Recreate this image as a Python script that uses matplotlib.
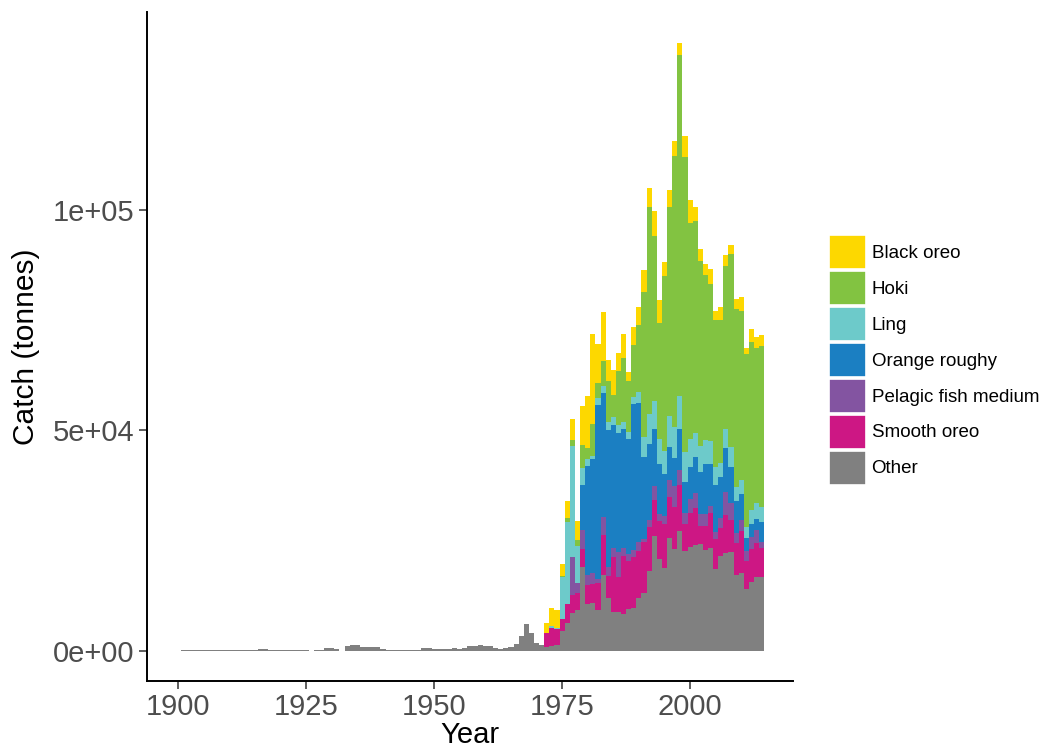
import numpy as np
import matplotlib
matplotlib.use("Agg")
import matplotlib.pyplot as plt
from matplotlib.patches import Patch

plt.rcParams['font.family'] = ['Liberation Sans', 'DejaVu Sans']

years = np.arange(1900, 2015)

# catch before the deepwater fishery starts (Other only)
other_early = [
    80, 200, 200, 200, 200, 200, 200, 200, 120, 120,        # 1900-1909
    120, 120, 120, 120, 250, 250, 450, 450, 180, 180,       # 1910-1919
    180, 180, 180, 230, 230, 230, 100, 250, 250, 700,       # 1920-1929
    700, 400, 80, 1130, 1360, 1360, 830, 830, 830, 830,     # 1930-1939
    380, 300, 300, 300, 300, 150, 300, 150, 600, 680,       # 1940-1949
    530, 530, 530, 530, 680, 530, 680, 1100, 1100, 1300,    # 1950-1959
    1130, 1130, 750, 450, 600, 980, 1510, 3400, 6050, 4150, # 1960-1969
    1880, 1360,                                             # 1970-1971
]

# 1972-2014, tonnes
other_late = [
    980, 1130, 1360, 4540, 6420, 8690, 9300, 18980, 10660, 10820,
    9300, 17240, 12090, 8910, 8910, 8390, 9460, 9680, 11950, 13090,
    18140, 26080, 20870, 18820, 25630, 23130, 27220, 22680, 23590, 24040,
    24270, 22910, 23360, 18600, 21550, 22230, 22450, 17240, 17690, 14060,
    15650, 16780, 16780,
]
smooth_oreo = [
    3175, 4150, 3630, 2720, 4240, 4010, 3790, 4150, 4310, 4380,
    6190, 9070, 4920, 12470, 7940, 13150, 11020, 11700, 10730, 11570,
    10050, 8160, 8620, 9980, 9300, 9530, 10430, 6120, 7710, 8390,
    4080, 5440, 7940, 6800, 6350, 8620, 7260, 7260, 9530, 6350,
    7480, 7710, 6580,
]
pelagic_medium = [
    0, 0, 0, 0, 0, 8690, 2400, 4310, 2270, 2430,
    770, 4010, 1970, 2040, 5670, 1750, 1520, 1520, 2110, 750,
    1520, 3180, 1590, 1810, 3860, 4760, 3400, 2490, 3180, 3400,
    2720, 2720, 1590, 1590, 2270, 5220, 3860, 2270, 2490, 2270,
    2720, 2950, 1360,
]
orange_roughy = [
    0, 0, 0, 0, 0, 0, 0, 10210, 24720, 25920,
    39530, 28260, 31140, 27830, 26990, 26990, 26010, 33040, 31530, 18670,
    17240, 12930, 11340, 9530, 7480, 6350, 9300, 7030, 7260, 8160,
    9530, 11340, 9530, 10660, 9300, 9980, 8160, 7260, 5900, 2950,
    2950, 2490, 4540,
]
ling = [
    0, 450, 300, 9460, 18670, 25170, 8320, 3920, 1590, 750,
    1660, 1520, 1880, 1810, 1750, 1720, 1720, 1720, 2430, 4540,
    6800, 6350, 5670, 5220, 7030, 7030, 7480, 6800, 6350, 5440,
    5900, 5440, 5220, 4080, 3180, 4310, 4540, 3180, 3180, 2490,
    3180, 3630, 3400,
]
hoki = [
    0, 0, 0, 360, 910, 1290, 1360, 5150, 2560, 7190,
    3400, 5740, 9230, 4990, 12320, 14520, 11570, 11730, 15200, 32890,
    46950, 37420, 26310, 39690, 47400, 61460, 77340, 66910, 48990, 48080,
    41960, 37420, 35610, 33340, 32430, 36970, 43770, 40370, 38330, 39240,
    38100, 35150, 36510,
]
black_oreo = [
    2130, 4080, 4010, 2650, 3790, 4760, 4310, 8850, 11730, 20410,
    8780, 11050, 4760, 5670, 4080, 5440, 1970, 4150, 4150, 4920,
    4310, 5670, 5220, 3180, 3860, 3400, 2720, 4760, 5220, 3180,
    2720, 2490, 3400, 2040, 2950, 2490, 2040, 2270, 3180, 1360,
    2950, 2490, 2490,
]

n_early = len(other_early)
pad = [0] * n_early

# stacking order from the bottom up
species = ["Other", "Smooth oreo", "Pelagic fish medium", "Orange roughy",
           "Ling", "Hoki", "Black oreo"]
catch = {
    "Other": other_early + other_late,
    "Smooth oreo": pad + smooth_oreo,
    "Pelagic fish medium": pad + pelagic_medium,
    "Orange roughy": pad + orange_roughy,
    "Ling": pad + ling,
    "Hoki": pad + hoki,
    "Black oreo": pad + black_oreo,
}
colours = {
    "Black oreo": "#FDD800",
    "Hoki": "#82C341",
    "Ling": "#6DCACA",
    "Orange roughy": "#1B7FC2",
    "Pelagic fish medium": "#8354A1",
    "Smooth oreo": "#CD1784",
    "Other": "#808080",
}
legend_order = ["Black oreo", "Hoki", "Ling", "Orange roughy",
                "Pelagic fish medium", "Smooth oreo", "Other"]

fig = plt.figure(figsize=(10.42, 7.48), dpi=100)
ax = fig.add_axes([0.1411, 0.0896, 0.761 - 0.1411, 0.984 - 0.0896])

bottom = np.zeros(len(years))
for sp in species:
    vals = np.array(catch[sp], dtype=float)
    ax.bar(years, vals, width=1.0, bottom=bottom, color=colours[sp],
           linewidth=0)
    bottom += vals

ax.set_xlim(1893.9, 2020.1)
ax.set_ylim(-6800, 144900)

ax.set_xticks([1900, 1925, 1950, 1975, 2000])
ax.set_yticks([0, 50000, 100000])
ax.set_yticklabels(["0e+00", "5e+04", "1e+05"])

for side in ["top", "right"]:
    ax.spines[side].set_visible(False)
for side in ["left", "bottom"]:
    ax.spines[side].set_linewidth(1.4)
    ax.spines[side].set_color("black")

ax.tick_params(axis="both", direction="out", length=6, width=1.1,
               color="#333333", labelsize=21, labelcolor="#4D4D4D", pad=3)

ax.set_xlabel("Year", fontsize=21, labelpad=0)
ax.set_ylabel("Catch (tonnes)", fontsize=21.5, labelpad=9)

handles = [Patch(facecolor=colours[s], edgecolor="white", linewidth=1.2)
           for s in legend_order]
fig.legend(handles, legend_order, loc="center left",
           bbox_to_anchor=(0.796, 0.519), frameon=False, fontsize=13.5,
           handlelength=1.95, handleheight=2.42, handletextpad=0.3,
           labelspacing=0.1, borderpad=0, borderaxespad=0)

fig.savefig("out.png", dpi=100)
